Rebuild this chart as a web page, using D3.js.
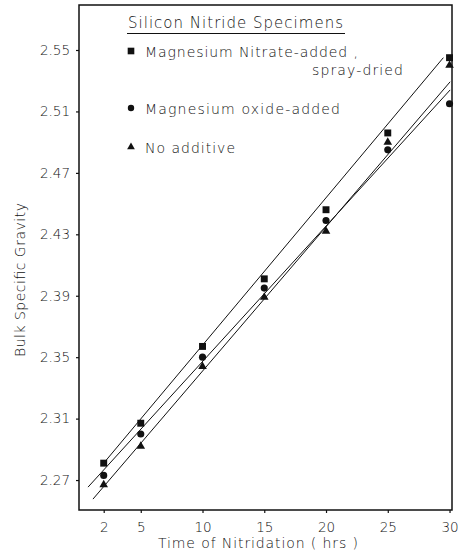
<!DOCTYPE html>
<html>
<head>
<meta charset="utf-8">
<script src="https://cdn.jsdelivr.net/npm/d3@7"></script>
<style>
  html, body { margin: 0; padding: 0; background: #fff; }
  svg { display: block; }
  text { font-family: 'DejaVu Sans', sans-serif; font-weight: 200; fill: #111; }
</style>
</head>
<body>
<div id="chart"></div>
<script>
(function() {
  'use strict';

  // time of nitridation (hrs)
  var hours = [2, 5, 10, 15, 20, 25, 30];
  // bulk specific gravity
  var nitrateSG = [2.281, 2.307, 2.357, 2.401, 2.446, 2.496, 2.545];
  var oxideSG = [2.273, 2.300, 2.350, 2.395, 2.439, 2.485, 2.515];
  var noAdditiveSG = [2.267, 2.292, 2.344, 2.389, 2.432, 2.490, 2.540];

  // fitted straight lines: [hrs, gravity] at each end
  var nitrateFit = [[2.0, 2.281], [29.5, 2.545]];
  var oxideFit = [[0.73, 2.2654], [30.05, 2.524]];
  var noAdditiveFit = [[1.13, 2.2576], [30.05, 2.5293]];

  var xTicks = [2, 5, 10, 15, 20, 25, 30];
  var yTicks = [2.27, 2.31, 2.35, 2.39, 2.43, 2.47, 2.51, 2.55];

  var width = 468, height = 559;
  var margin = {top: 5, right: 16, bottom: 49, left: 79};

  var svg = d3.select('#chart')
      .append('svg')
      .attr('width', width)
      .attr('height', height);

  var x = d3.scaleLinear()
      .domain([0, 30.2])
      .range([margin.left, width - margin.right]);
  var y = d3.scaleLinear()
      .domain([2.2505, 2.5793])
      .range([height - margin.bottom, margin.top]);

  // frame
  svg.append('rect')
    .attr('x', x.range()[0])
    .attr('y', y.range()[1])
    .attr('width', x.range()[1] - x.range()[0])
    .attr('height', y.range()[0] - y.range()[1])
    .attr('fill', 'none')
    .attr('stroke', '#111')
    .attr('stroke-width', 1.5);

  // axes
  var xAxis = d3.axisBottom(x)
      .tickValues(xTicks)
      .tickSize(3)
      .tickPadding(9)
      .tickFormat(d3.format('d'));
  var gx = svg.append('g')
      .attr('transform', 'translate(0,' + y.range()[0] + ')')
      .call(xAxis);

  var yAxis = d3.axisLeft(y)
      .tickValues(yTicks)
      .tickSize(3)
      .tickPadding(6)
      .tickFormat(d3.format('.2f'));
  var gy = svg.append('g')
      .attr('transform', 'translate(' + x.range()[0] + ',0)')
      .call(yAxis);

  [gx, gy].forEach(function(g) {
    g.select('.domain').remove();
    g.selectAll('line').attr('stroke', '#111').attr('stroke-width', 1.2);
    g.selectAll('text')
      .style('font-family', "'DejaVu Sans', sans-serif")
      .style('font-weight', 200)
      .style('font-size', '13.5px')
      .attr('fill', '#111');
  });

  // axis titles
  svg.append('text')
    .attr('x', 258)
    .attr('y', 548)
    .attr('text-anchor', 'middle')
    .attr('textLength', 200)
    .attr('lengthAdjust', 'spacing')
    .style('font-size', '14px')
    .text('Time of Nitridation ( hrs )');

  svg.append('text')
    .attr('transform', 'translate(25,280) rotate(-90)')
    .attr('text-anchor', 'middle')
    .attr('textLength', 154)
    .attr('lengthAdjust', 'spacing')
    .style('font-size', '14px')
    .text('Bulk Specific Gravity');

  // fit lines
  var line = d3.line()
      .x(function(d) { return x(d[0]); })
      .y(function(d) { return y(d[1]); });

  [nitrateFit, oxideFit, noAdditiveFit].forEach(function(fit) {
    svg.append('path')
      .datum(fit)
      .attr('d', line)
      .attr('fill', 'none')
      .attr('stroke', '#111')
      .attr('stroke-width', 1);
  });

  // markers
  var series = [
    {key: 'nitrate', values: nitrateSG, symbol: d3.symbolSquare, size: 48},
    {key: 'oxide', values: oxideSG, symbol: d3.symbolCircle, size: 40},
    {key: 'none', values: noAdditiveSG, symbol: d3.symbolTriangle, size: 32}
  ];

  series.forEach(function(s) {
    svg.append('g')
      .selectAll('path')
      .data(s.values)
      .enter()
      .append('path')
      .attr('transform', function(d, i) {
        return 'translate(' + x(hours[i]) + ',' + y(d) + ')';
      })
      .attr('d', d3.symbol().type(s.symbol).size(s.size))
      .attr('fill', '#111');
  });

  // legend
  var legend = svg.append('g');

  legend.append('text')
    .attr('x', 128)
    .attr('y', 28)
    .attr('textLength', 215)
    .attr('lengthAdjust', 'spacing')
    .style('font-size', '15px')
    .text('Silicon Nitride Specimens');
  legend.append('line')
    .attr('x1', 127).attr('x2', 345)
    .attr('y1', 33.5).attr('y2', 33.5)
    .attr('stroke', '#111')
    .attr('stroke-width', 1.2);

  var entries = [
    {symbol: d3.symbolSquare, size: 44, cy: 51, text: 'Magnesium Nitrate-added ,', ty: 57, len: 213},
    {symbol: d3.symbolCircle, size: 32, cy: 108, text: 'Magnesium oxide-added', ty: 114, len: 195},
    {symbol: d3.symbolTriangle, size: 26, cy: 147, text: 'No additive', ty: 153, len: 90}
  ];

  entries.forEach(function(e) {
    legend.append('path')
      .attr('transform', 'translate(131,' + e.cy + ')')
      .attr('d', d3.symbol().type(e.symbol).size(e.size))
      .attr('fill', '#111');
    legend.append('text')
      .attr('x', 145)
      .attr('y', e.ty)
      .attr('textLength', e.len)
      .attr('lengthAdjust', 'spacing')
      .style('font-size', '14px')
      .text(e.text);
  });

  legend.append('text')
    .attr('x', 312)
    .attr('y', 75)
    .attr('textLength', 91)
    .attr('lengthAdjust', 'spacing')
    .style('font-size', '14px')
    .text('spray-dried');
})();
</script>
</body>
</html>
